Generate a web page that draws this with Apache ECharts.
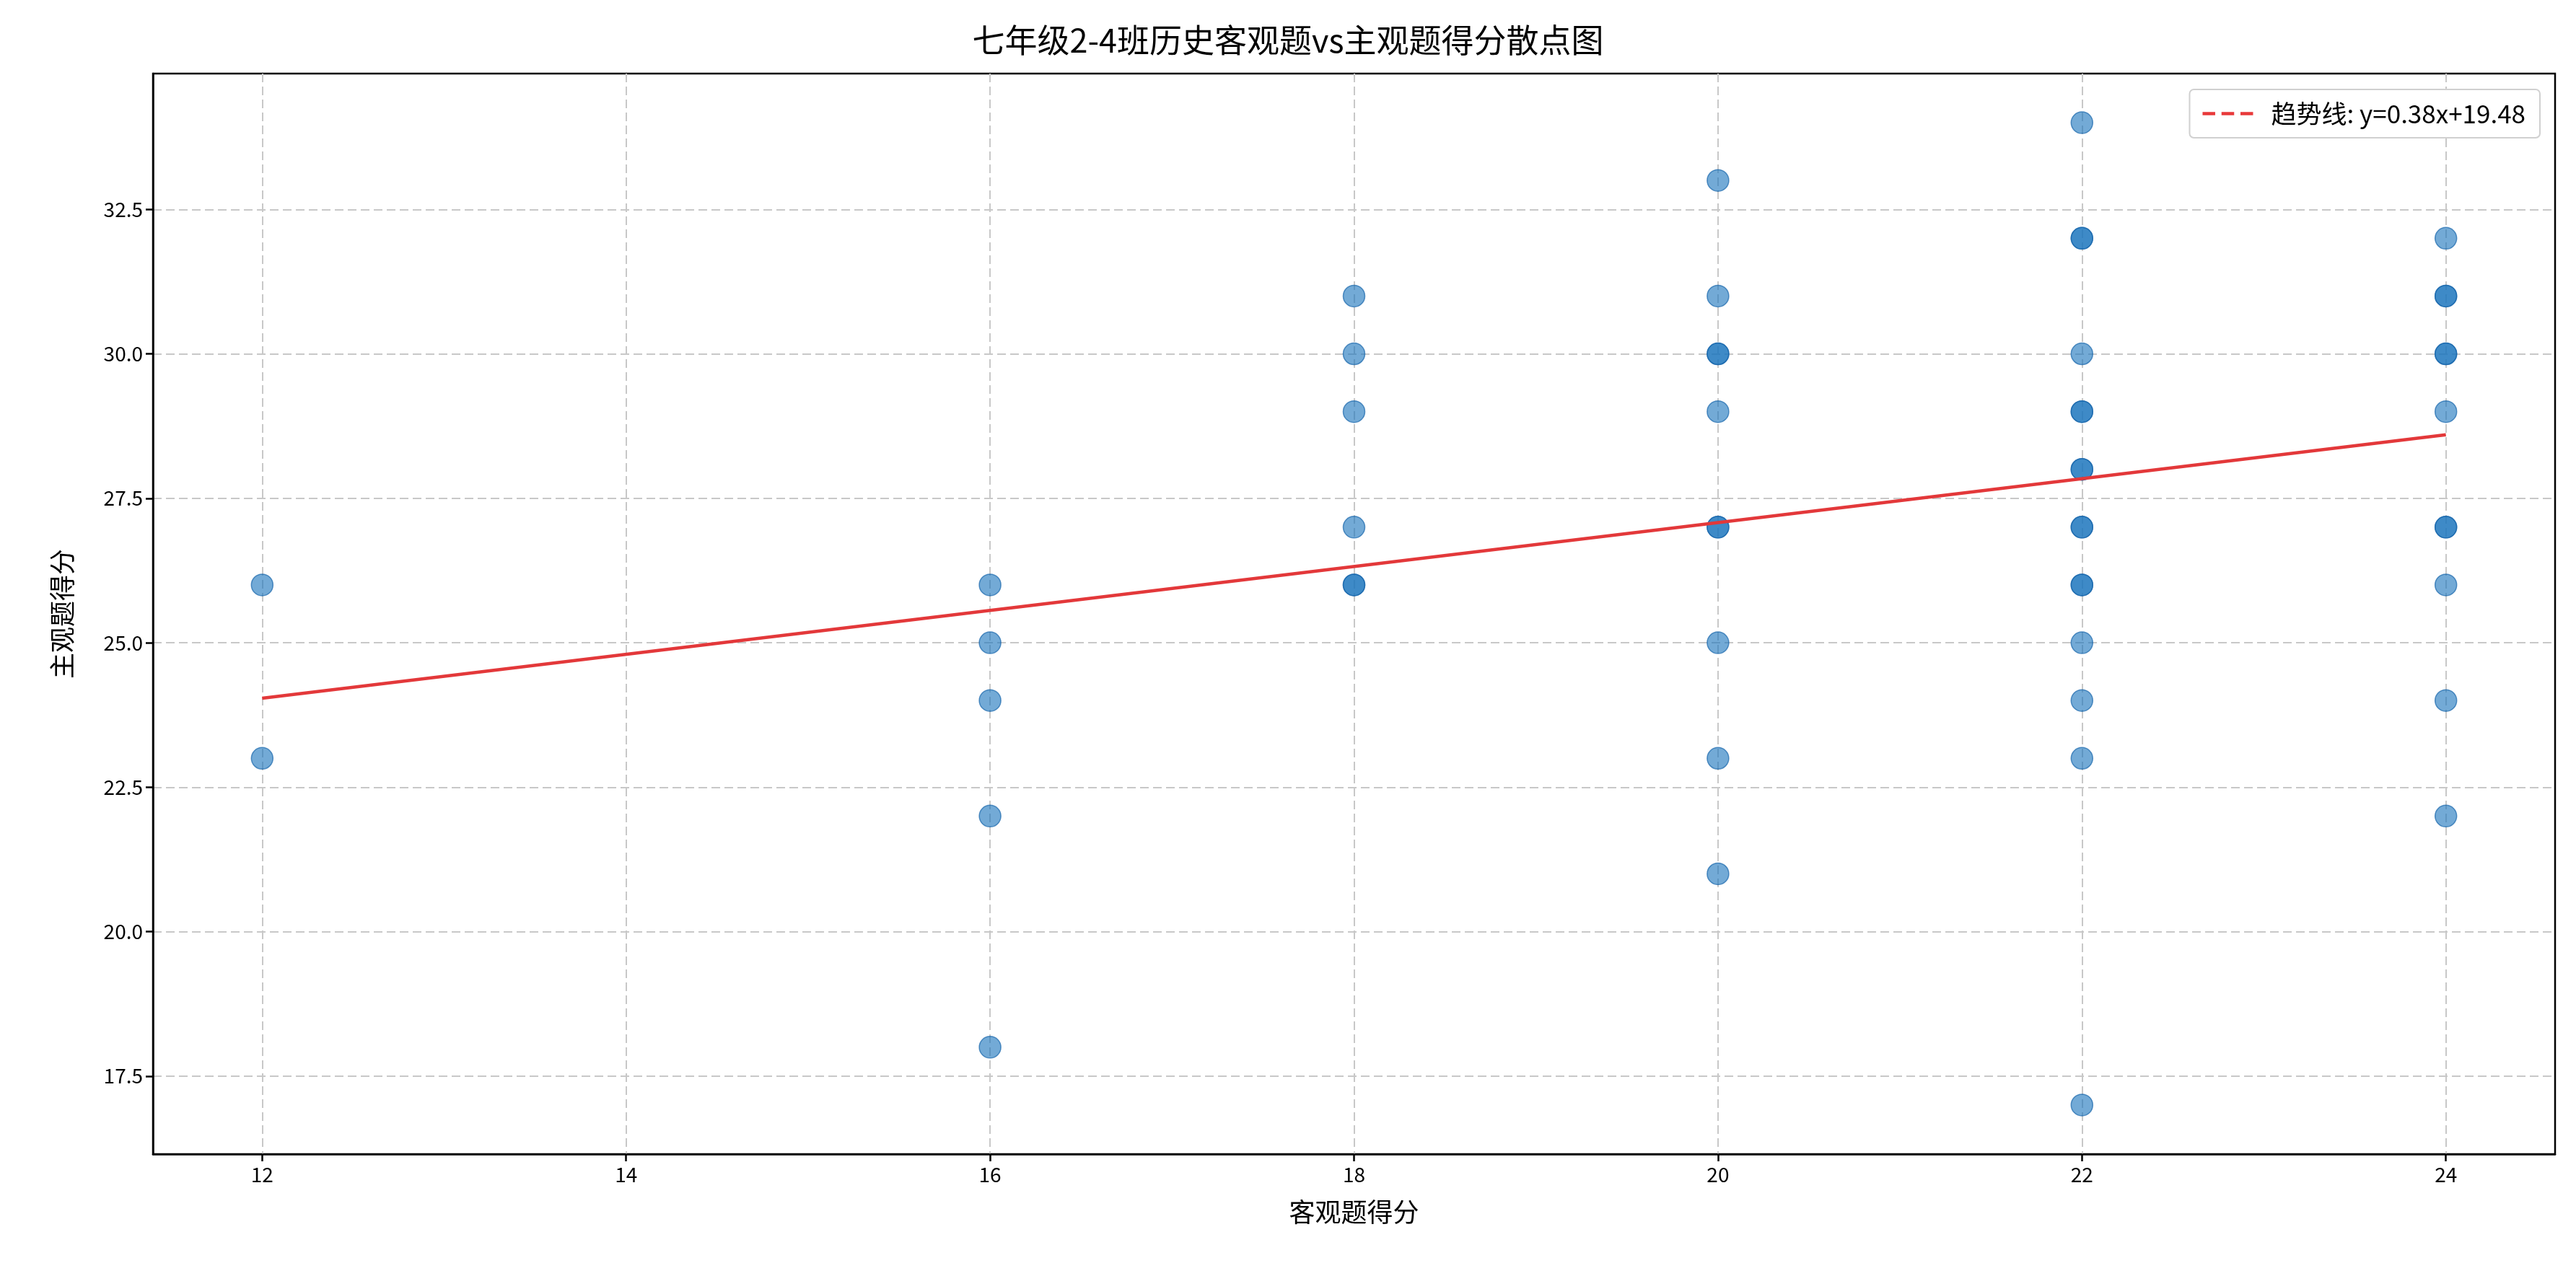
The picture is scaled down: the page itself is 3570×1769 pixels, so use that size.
<!DOCTYPE html>
<html><head><meta charset="utf-8">
<script src="https://cdn.jsdelivr.net/npm/echarts@6/dist/echarts.min.js"></script>
<style>html,body{margin:0;padding:0;background:#fff}#c{width:3570px;height:1769px}</style>
</head><body><div id="c"></div>
<script>
const objScores = [12,12, 16,16,16,16,16, 18,18,18,18,18,18, 20,20,20,20,20,20,20,20,20,20, 22,22,22,22,22,22,22,22,22,22,22,22,22,22,22,22, 24,24,24,24,24,24,24,24,24,24,24];
const subjScores = [26,23, 26,25,24,22,18, 31,30,29,27,26,26, 33,31,30,30,29,27,27,25,23,21, 34,32,32,30,29,29,28,28,27,27,26,26,25,24,23,17, 32,31,31,30,30,29,27,27,26,24,22];
const trendSlope = 0.38, trendIntercept = 19.48;
const trendXs = [12, 24];
const xTicks = [12,14,16,18,20,22,24];
const yTicks = [17.5,20,22.5,25,27.5,30,32.5];
const FONT = '"Noto Sans CJK SC","Noto Sans",sans-serif';

const points = objScores.map((x,i)=>[x, subjScores[i]]);
const trend = trendXs.map(x=>[x, trendSlope*x+trendIntercept]);
const legendName = '趋势线: y=' + trendSlope.toFixed(2) + 'x+' + trendIntercept.toFixed(2);

const chart = echarts.init(document.getElementById('c'));
const axisCommon = {
  axisLine:{show:true,lineStyle:{color:'#000',width:2.5}},
  axisTick:{show:true,length:10,lineStyle:{color:'#000',width:2.5}},
  axisLabel:{color:'#000',fontSize:28,fontFamily:FONT,margin:14},
  splitLine:{show:true,lineStyle:{color:'#c8c8c8',type:[12,6],width:2}},
  nameTextStyle:{color:'#000',fontSize:36,fontFamily:FONT}
};
chart.setOption({
  backgroundColor:'#fff',
  animation:false,
  title:{text:'七年级2-4班历史客观题vs主观题得分散点图',left:'center',top:28,
    textStyle:{fontSize:45,fontWeight:'normal',color:'#000',fontFamily:FONT}},
  grid:{left:212,right:29,top:102,bottom:169,containLabel:false,show:true,borderColor:'#000',borderWidth:2.5},
  legend:{right:50,top:124,orient:'vertical',backgroundColor:'#fff',borderColor:'#d0d0d0',borderWidth:2,borderRadius:6,
    padding:[16,20,16,18],itemWidth:70,itemHeight:20,itemGap:10,
    textStyle:{fontSize:35,fontFamily:FONT,color:'#000',padding:[0,0,0,20]},
    data:[{name:legendName,icon:'path://M0,8 L16,8 L16,12 L0,12 Z M24,8 L40,8 L40,12 L24,12 Z M48,8 L64,8 L64,12 L48,12 Z',itemStyle:{color:'#e8393a'}}]},
  xAxis:{type:'value',min:11.4,max:24.6,...axisCommon,
    axisLabel:{...axisCommon.axisLabel,customValues:xTicks},
    axisTick:{...axisCommon.axisTick,customValues:xTicks},
    splitLine:{...axisCommon.splitLine},
    name:'客观题得分',nameLocation:'middle',nameGap:62},
  yAxis:{type:'value',min:16.15,max:34.85,...axisCommon,
    axisLabel:{...axisCommon.axisLabel,customValues:yTicks,formatter:v=>v.toFixed(1)},
    axisTick:{...axisCommon.axisTick,customValues:yTicks},
    name:'主观题得分',nameLocation:'middle',nameGap:108},
  series:[
    {type:'scatter',data:points,symbolSize:30,z:3,
      itemStyle:{color:'rgba(31,119,190,0.78)',borderColor:'rgba(20,100,170,0.85)',borderWidth:1.5}},
    {type:'line',name:legendName,data:trend,symbol:'none',z:4,
      lineStyle:{color:'#e3383a',width:4.5}}
  ]
});
</script></body></html>
